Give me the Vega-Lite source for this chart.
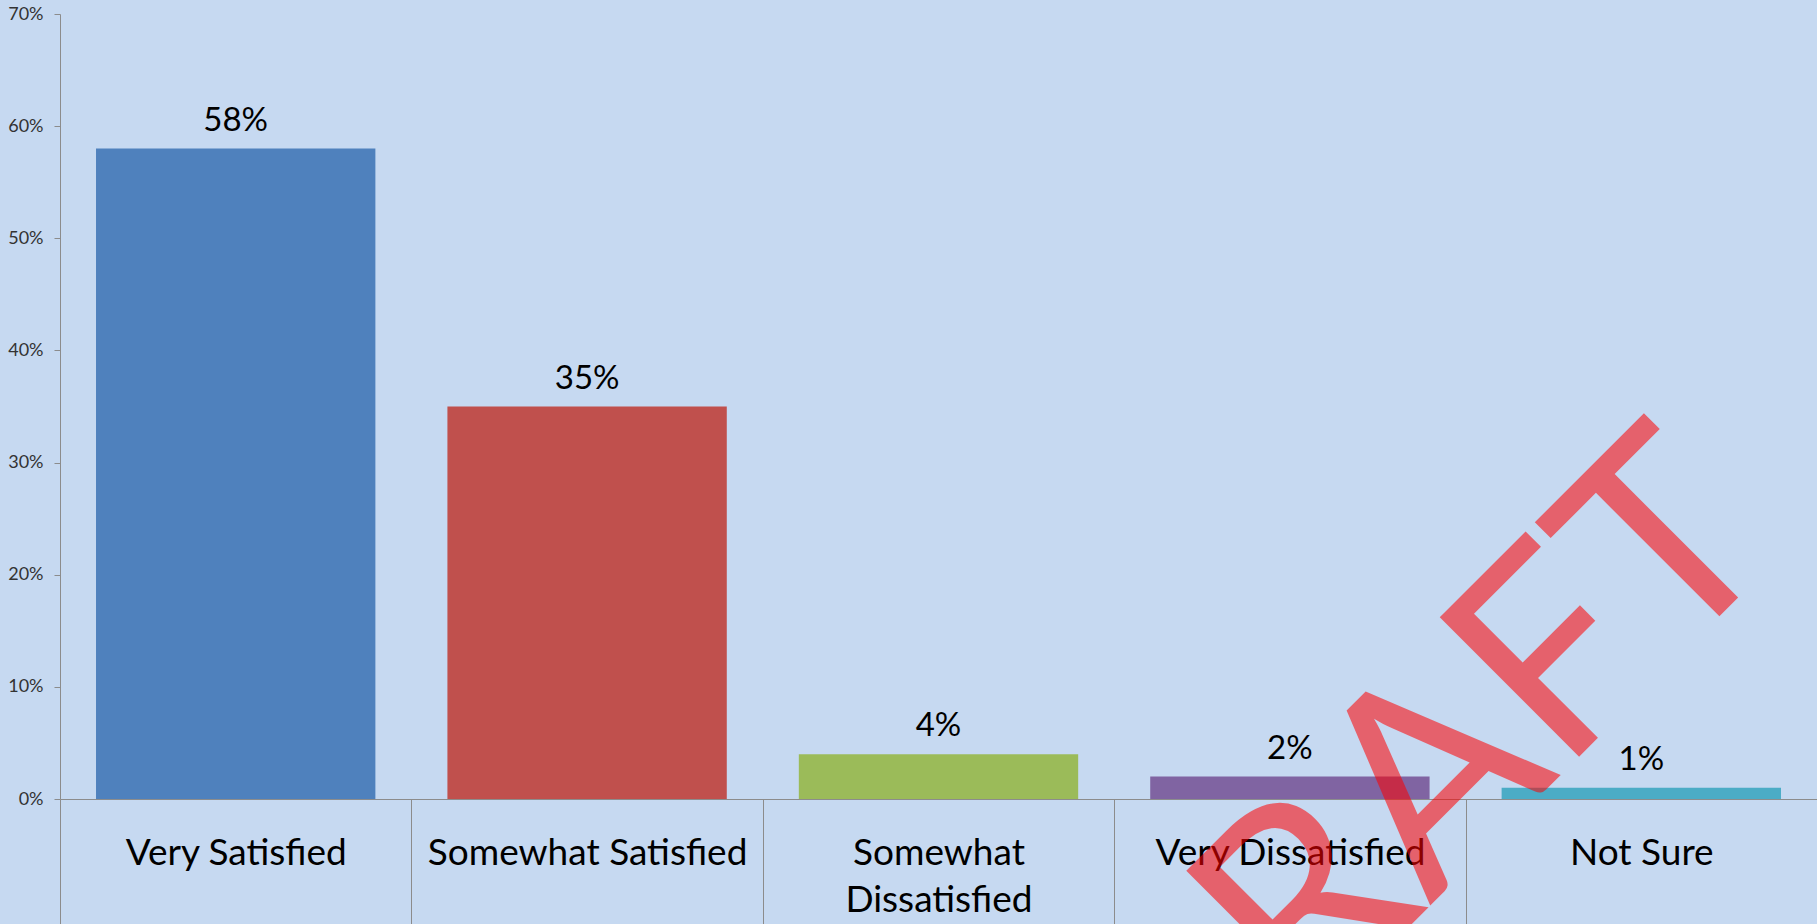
{
  "$schema": "https://vega.github.io/schema/vega-lite/v6.json",
  "width": 1757,
  "height": 785,
  "autosize": {"type": "none"},
  "padding": {"left": 60, "top": 14, "right": 0, "bottom": 125},
  "background": "#C6D9F1",
  "config": {"view": {"stroke": null}, "font": "Lato"},
  "data": {
    "values": [
      {"category": "Very Satisfied", "value": 0.58},
      {"category": "Somewhat Satisfied", "value": 0.35},
      {"category": "Somewhat Dissatisfied", "value": 0.04},
      {"category": "Very Dissatisfied", "value": 0.02},
      {"category": "Not Sure", "value": 0.01}
    ]
  },
  "encoding": {
    "x": {
      "field": "category",
      "type": "nominal",
      "sort": null,
      "scale": {"paddingInner": 0, "paddingOuter": 0},
      "axis": {
        "title": null,
        "labelAngle": 0,
        "labelFont": "Lato",
        "labelFontSize": 37,
        "labelColor": "#000000",
        "labelPadding": -89,
        "labelLimit": 0,
        "labelLineHeight": 47,
        "labelExpr": "datum.label == 'Somewhat Dissatisfied' ? ['Somewhat', 'Dissatisfied'] : datum.label",
        "tickBand": "extent",
        "tickSize": 125,
        "tickColor": "#8C8C8C",
        "domainColor": "#8C8C8C",
        "grid": false
      }
    }
  },
  "layer": [
    {
      "mark": {"type": "bar", "width": {"band": 0.795}},
      "encoding": {
        "y": {
          "field": "value",
          "type": "quantitative",
          "scale": {"domain": [0, 0.7]},
          "axis": {
            "title": null,
            "values": [0, 0.1, 0.2, 0.3, 0.4, 0.5, 0.6, 0.7],
            "format": ".0%",
            "grid": false,
            "domainColor": "#8C8C8C",
            "tickColor": "#8C8C8C",
            "tickSize": 6,
            "labelFont": "Lato",
            "labelFontSize": 18,
            "labelColor": "#333333",
            "labelPadding": 11
          }
        },
        "color": {
          "field": "category",
          "type": "nominal",
          "scale": {
            "domain": ["Very Satisfied", "Somewhat Satisfied", "Somewhat Dissatisfied", "Very Dissatisfied", "Not Sure"],
            "range": ["#4F81BD", "#C0504D", "#9BBB59", "#8064A2", "#4BACC6"]
          },
          "legend": null
        }
      }
    },
    {
      "mark": {"type": "text", "baseline": "alphabetic", "dy": -18, "fontSize": 33, "font": "Lato", "color": "#000000"},
      "encoding": {
        "y": {"field": "value", "type": "quantitative"},
        "text": {"field": "value", "type": "quantitative", "format": ".0%"}
      }
    },
    {
      "data": {"values": [{"text": "DRAFT"}]},
      "mark": {"type": "text", "angle": -45, "fontSize": 275, "font": "Lato", "color": "#FF0000", "opacity": 0.55, "align": "center", "baseline": "alphabetic", "dx": -172, "dy": -66},
      "encoding": {
        "x": {"datum": "Not Sure"},
        "y": {"datum": 0.01},
        "text": {"field": "text"}
      }
    }
  ]
}
